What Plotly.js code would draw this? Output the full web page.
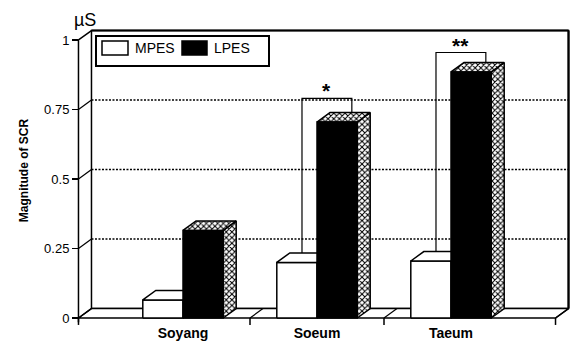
<!DOCTYPE html>
<html>
<head>
<meta charset="utf-8">
<script src="https://cdn.plot.ly/plotly-3.0.1.min.js"></script>
<style>
  html, body { margin: 0; padding: 0; background: #fff; }
  #chart { width: 574px; height: 341px; }
</style>
</head>
<body>
<div id="chart"></div>
<script>
// Skin conductance response magnitude by constitution group
const categories = ['Soyang', 'Soeum', 'Taeum'];
const seriesNames = ['MPES', 'LPES'];
const mpesValues = [0.065, 0.20, 0.205];
const lpesValues = [0.315, 0.705, 0.885];
const yTickVals = [0, 0.25, 0.5, 0.75, 1];
const yTickText = ['0', '0.25', '0.5', '0.75', '1'];
// significance brackets (height of bracket) and their markers
const bracketLevels = [null, 0.79, 0.955];
const bracketMarks = ['', '*', '**'];
const unitLabel = 'µS';
const yTitle = 'Magnitude of SCR';

// ---- pseudo-3D frame geometry, in axis units ----
const W = 574, H = 341;
const BAR_W = 0.3;      // width of one bar face
const DX = 0.097;       // depth offset along x
const DY = 0.034;       // depth offset along y
const X_LEFT = -0.78;   // front-left corner of the floor
const X_RIGHT = 2.78;   // front-right corner of the floor
const X_BACK = X_RIGHT + DX;
const DIVIDERS = [0.5, 1.5];
const FONT = 'Liberation Sans, Arial, Helvetica, sans-serif';

// plotting area fills the page; ranges chosen so 0 and 1 land on the frame
const xRange = [-183 / 134, (W - 183) / 134];
const yRange = [-23 / 278, (H - 23) / 278];

const traces = [];
function line(xs, ys, width, dash) {
  traces.push({
    type: 'scatter', mode: 'lines', x: xs, y: ys,
    line: { color: '#000', width: width || 1.5, dash: dash || 'solid' },
    hoverinfo: 'skip', showlegend: false
  });
}
function face(xs, ys, fill, pattern) {
  const t = {
    type: 'scatter', mode: 'lines', x: xs.concat([xs[0]]), y: ys.concat([ys[0]]),
    fill: 'toself', fillcolor: fill,
    line: { color: '#000', width: 1.5 },
    hoverinfo: 'skip', showlegend: false
  };
  if (pattern) {
    t.fillpattern = { shape: 'x', size: 4, solidity: 0.45, fgcolor: '#000', bgcolor: '#fff', fillmode: 'replace' };
  }
  traces.push(t);
}

// back wall with dotted grid
face([X_LEFT + DX, X_BACK, X_BACK, X_LEFT + DX], [DY, DY, 1 + DY, 1 + DY], '#fff');
yTickVals.slice(1, -1).forEach(v => {
  line([X_LEFT, X_LEFT + DX], [v, v + DY], 1.2);
  line([X_LEFT + DX, X_BACK], [v + DY, v + DY], 1.5, '2px,1.5px');
});
// right wall edge drawn heavier
line([X_BACK, X_BACK], [DY, 1 + DY], 2.2);
line([X_LEFT + DX, X_BACK], [1 + DY, 1 + DY], 2);

// floor
face([X_LEFT, X_RIGHT, X_BACK, X_LEFT + DX], [0, 0, DY, DY], '#fff');
DIVIDERS.concat([X_LEFT, X_RIGHT]).forEach(d => {
  line([d, d + DX], [0, DY], 1.2);
  line([d, d], [0, -0.025], 1.5);
});
// front vertical axis with its top corner
line([X_LEFT, X_LEFT, X_LEFT + DX], [-0.015, 1, 1 + DY], 1.5);

// bars: MPES (open) then LPES (solid with hatched sides)
categories.forEach((c, i) => {
  const a0 = i - BAR_W, a1 = i;
  const m = mpesValues[i];
  face([a0, a1, a1, a0], [0, 0, m, m], '#fff');
  face([a0, a1, a1 + DX, a0 + DX], [m, m, m + DY, m + DY], '#fff');

  const b0 = i, b1 = i + BAR_W;
  const l = lpesValues[i];
  face([b1, b1 + DX, b1 + DX, b1], [0, DY, l + DY, l], '#fff', true);
  face([b0, b1, b1 + DX, b0 + DX], [l, l, l + DY, l + DY], '#fff', true);
  face([b0, b1, b1, b0], [0, 0, l, l], '#000');
});

// significance brackets
const annotations = [];
categories.forEach((c, i) => {
  const lvl = bracketLevels[i];
  if (lvl === null) return;
  const xl = i - 0.112, xr = i + 0.26;
  line([xl, xl, xr, xr], [mpesValues[i] + DY, lvl, lvl, lpesValues[i] + DY], 1.2);
  annotations.push({
    x: (xl + xr) / 2, y: lvl, xref: 'x', yref: 'y', yanchor: 'bottom',
    text: bracketMarks[i], showarrow: false, yshift: -6,
    font: { family: FONT, size: 21, color: '#000', weight: 'bold' }
  });
});

// helpers for page-pixel placement of the legend and unit label
const px = v => v / W;
const py = v => 1 - v / H;

annotations.push({
  x: px(85), y: py(20), xref: 'paper', yref: 'paper', xanchor: 'center', yanchor: 'middle',
  text: unitLabel, showarrow: false, font: { family: FONT, size: 18, color: '#000' }
});

// legend box
const shapes = [
  { type: 'rect', xref: 'paper', yref: 'paper', x0: px(96), x1: px(269), y0: py(36), y1: py(66),
    line: { color: '#000', width: 2 }, fillcolor: '#fff' },
  { type: 'rect', xref: 'paper', yref: 'paper', x0: px(102), x1: px(128), y0: py(41), y1: py(55),
    line: { color: '#000', width: 1.5 }, fillcolor: '#fff' },
  { type: 'rect', xref: 'paper', yref: 'paper', x0: px(182), x1: px(207), y0: py(41), y1: py(55),
    line: { color: '#000', width: 1.5 }, fillcolor: '#000' }
];
[[133, seriesNames[0]], [212, seriesNames[1]]].forEach(([x, t]) => {
  annotations.push({
    x: px(x), y: py(48.5), xref: 'paper', yref: 'paper', xanchor: 'left', yanchor: 'middle',
    text: t, showarrow: false, font: { family: FONT, size: 14, color: '#000' }
  });
});

const layout = {
  width: W, height: H,
  margin: { l: 0, r: 0, t: 0, b: 0 },
  paper_bgcolor: '#fff', plot_bgcolor: 'rgba(0,0,0,0)',
  showlegend: false,
  font: { family: FONT, color: '#000' },
  xaxis: {
    range: xRange, anchor: 'free', position: 23 / H,
    showgrid: false, zeroline: false, showline: false, ticks: '',
    tickvals: categories.map((c, i) => i), ticktext: categories,
    tickfont: { family: FONT, size: 14, color: '#000', weight: 'bold' },
    ticklabelstandoff: 5, automargin: false, fixedrange: true
  },
  yaxis: {
    range: yRange, anchor: 'free', position: 78 / W,
    showgrid: false, zeroline: false, showline: false,
    ticks: 'outside', ticklen: 6, tickwidth: 1.5, tickcolor: '#000',
    tickvals: yTickVals, ticktext: yTickText,
    tickfont: { family: FONT, size: 13, color: '#000' },
    title: { text: yTitle, standoff: 11, font: { family: FONT, size: 12, color: '#000', weight: 'bold' } },
    automargin: false, fixedrange: true
  },
  shapes: shapes,
  annotations: annotations
};

Plotly.newPlot('chart', traces, layout, { staticPlot: true, displayModeBar: false });
</script>
</body>
</html>
